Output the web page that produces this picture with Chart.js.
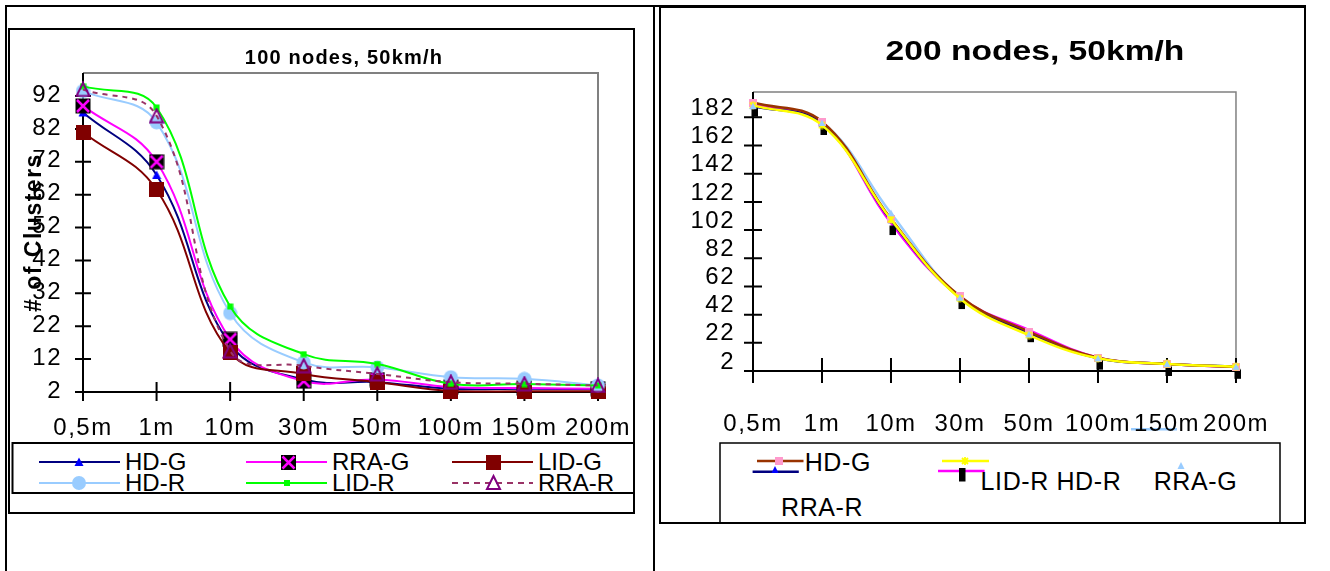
<!DOCTYPE html>
<html><head><meta charset="utf-8">
<script src="https://cdn.jsdelivr.net/npm/chart.js@4/dist/chart.umd.min.js"></script>
<style>
html,body{margin:0;padding:0;background:#fff;}
#page{position:relative;width:1330px;height:571px;overflow:hidden;font-family:"Liberation Sans",Arial,sans-serif;color:#000;background:#fff;}
canvas{position:absolute;}
.t{position:absolute;white-space:nowrap;font-size:24px;line-height:28px;}
.r{font-size:25px;letter-spacing:0.6px;}
</style></head><body><div id="page">
<svg width="1330" height="571" style="position:absolute;left:0;top:0">
  <g fill="none" stroke="#000" stroke-width="2">
    <line x1="5" y1="6" x2="1306" y2="6"/>
    <line x1="6" y1="6" x2="6" y2="571"/>
    <line x1="654" y1="6" x2="654" y2="571"/>
    <rect x="9" y="29" width="625" height="484"/>
    <rect x="12.5" y="443" width="621.5" height="50"/>
    <rect x="660" y="7" width="645" height="516"/>
    <rect x="720" y="443" width="560" height="80" stroke-width="1.5"/>
  </g>
  <!-- left legend symbols -->
  <line x1="39" y1="462" x2="120" y2="462" stroke="#000080" stroke-width="2"/>
  <polygon points="79,457.5 83.5,466 74.5,466" fill="#0000FF"/>
  <line x1="246" y1="462" x2="327" y2="462" stroke="#FF00FF" stroke-width="2"/>
  <rect x="281" y="455" width="15" height="15" fill="#000"/>
  <path d="M282.5 456.5 L294.5 468.5 M294.5 456.5 L282.5 468.5" stroke="#FF00FF" stroke-width="2.5"/>
  <line x1="452" y1="462" x2="533" y2="462" stroke="#800000" stroke-width="2"/>
  <rect x="486" y="455" width="15" height="15" fill="#800000"/>
  <line x1="39" y1="483" x2="120" y2="483" stroke="#99CCFF" stroke-width="2"/>
  <circle cx="79" cy="483" r="7" fill="#99CCFF"/>
  <line x1="246" y1="483" x2="327" y2="483" stroke="#00FF00" stroke-width="2"/>
  <rect x="284" y="480" width="6" height="6" fill="#00FF00"/>
  <line x1="452" y1="483" x2="533" y2="483" stroke="#993366" stroke-width="2" stroke-dasharray="6,5"/>
  <polygon points="493.5,476 500,489 487,489" fill="none" stroke="#800080" stroke-width="2"/>
  <!-- right legend symbols -->
  <line x1="757" y1="461" x2="803.5" y2="461" stroke="#993300" stroke-width="2.5"/>
  <rect x="775" y="457" width="8" height="8" fill="#FF99CC"/>
  <line x1="752.6" y1="471.7" x2="798.8" y2="471.7" stroke="#000080" stroke-width="2.5"/>
  <polygon points="775,466 778.5,473 771.5,473" fill="#0000FF"/>
  <line x1="942" y1="461" x2="989" y2="461" stroke="#FFFF00" stroke-width="2.5"/>
  <path d="M962 458 L968 464 M968 458 L962 464 M965 457 L965 465" stroke="#FFFF00" stroke-width="1.8"/>
  <line x1="938" y1="471" x2="984.6" y2="471" stroke="#FF00FF" stroke-width="2.5"/>
  <rect x="959" y="468" width="6.5" height="13.5" fill="#000"/>
  <polygon points="1181,462 1184.5,469 1177.5,469" fill="#99CCFF"/>
  <line x1="1131" y1="429.3" x2="1177" y2="429.3" stroke="#99CCFF" stroke-width="2.5"/>
</svg>
<canvas id="c1" width="660" height="440" style="left:0;top:0"></canvas>
<canvas id="c2" width="645" height="440" style="left:660px;top:0"></canvas>

<div style="position:absolute;left:144px;width:400px;text-align:center;top:45px;font-weight:bold;font-size:20px;line-height:24px;letter-spacing:1.2px;white-space:nowrap;">100 nodes, 50km/h</div>
<div style="position:absolute;left:835px;width:400px;text-align:center;top:34px;font-weight:bold;font-size:28px;line-height:34px;white-space:nowrap;transform:scaleX(1.2);transform-origin:center;">200 nodes, 50km/h</div>

<div class="t" style="left:125px;top:448px">HD-G</div>
<div class="t" style="left:332px;top:448px">RRA-G</div>
<div class="t" style="left:538px;top:448px">LID-G</div>
<div class="t" style="left:125px;top:469px">HD-R</div>
<div class="t" style="left:332px;top:469px">LID-R</div>
<div class="t" style="left:538px;top:469px">RRA-R</div>

<div class="t r" style="left:804.7px;top:447.7px">HD-G</div>
<div class="t r" style="left:980.6px;top:467px">LID-R HD-R</div>
<div class="t r" style="left:1153.7px;top:467px">RRA-G</div>
<div class="t r" style="left:781px;top:492.7px">RRA-R</div>
</div>
<script>
// ---------- data ----------
const categories = ['0,5m', '1m', '10m', '30m', '50m', '100m', '150m', '200m'];

// 100 nodes, 50km/h
const hdG100  = [87, 68, 16.5, 5.8, 5, 3, 3, 2.8];
const rraG100 = [89, 72, 18, 5.3, 5.8, 3.5, 3.2, 3];
const lidG100 = [81, 63.5, 14, 7.5, 5, 2.3, 2.2, 2.2];
const hdR100  = [93.5, 84, 26, 11, 9.5, 6.5, 6, 4];
const lidR100 = [95, 88.5, 28, 13.5, 10.5, 4.5, 4.4, 4];
const rraR100 = [94, 86, 14.5, 10, 7.5, 5, 4.5, 4];
const yTicks100 = [2, 12, 22, 32, 42, 52, 62, 72, 82, 92];

// 200 nodes, 50km/h
const hdG200  = [192.5, 179, 110, 55, 30, 11.5, 7, 5];
const lidG200 = [190, 177.5, 109, 54, 29, 11, 7, 5];
const lidR200 = [190.5, 176.5, 109.5, 53.5, 27.5, 11, 7, 5];
const hdR200  = [191, 178, 107, 54.5, 31, 11.5, 7, 5];
const rraG200 = [190, 178, 114, 54, 28, 11, 7, 5];
const rraR200 = [191, 178.5, 114, 54, 28.5, 11, 7, 5];
const yTicks200 = [2, 22, 42, 62, 82, 102, 122, 142, 162, 182];

// ---------- markers ----------
function marker(w, h, draw) {
  const c = document.createElement('canvas');
  c.width = w; c.height = h;
  draw(c.getContext('2d'), w / 2, h / 2);
  return c;
}
const triBlue = marker(10, 10, (g, cx, cy) => { g.fillStyle = '#0000FF'; g.beginPath(); g.moveTo(cx, cy - 4.5); g.lineTo(cx + 4.5, cy + 4); g.lineTo(cx - 4.5, cy + 4); g.closePath(); g.fill(); });
const blackX = marker(16, 16, (g) => { g.fillStyle = '#000'; g.fillRect(0.5, 0.5, 15, 15); g.strokeStyle = '#FF00FF'; g.lineWidth = 2.5; g.beginPath(); g.moveTo(2, 2); g.lineTo(14, 14); g.moveTo(14, 2); g.lineTo(2, 14); g.stroke(); });
const sqRed = marker(15, 15, (g) => { g.fillStyle = '#800000'; g.fillRect(0, 0, 15, 15); });
const circLB = marker(15, 15, (g, cx, cy) => { g.fillStyle = '#99CCFF'; g.beginPath(); g.arc(cx, cy, 7, 0, Math.PI * 2); g.fill(); });
const sqGreen = marker(7, 7, (g) => { g.fillStyle = '#00FF00'; g.fillRect(0.5, 0.5, 6, 6); });
const triOut = marker(16, 16, (g) => { g.strokeStyle = '#800080'; g.lineWidth = 2; g.beginPath(); g.moveTo(8, 1.5); g.lineTo(14.5, 14.5); g.lineTo(1.5, 14.5); g.closePath(); g.stroke(); });

const sqPink = marker(8, 8, (g) => { g.fillStyle = '#FF99CC'; g.fillRect(0, 0, 8, 8); });
const triBlueS = marker(8, 8, (g, cx, cy) => { g.fillStyle = '#0000FF'; g.beginPath(); g.moveTo(cx, cy - 3.5); g.lineTo(cx + 3.5, cy + 3); g.lineTo(cx - 3.5, cy + 3); g.closePath(); g.fill(); });
const starY = marker(9, 9, (g) => { g.strokeStyle = '#FFFF00'; g.lineWidth = 1.8; g.beginPath(); g.moveTo(1.5, 1.5); g.lineTo(7.5, 7.5); g.moveTo(7.5, 1.5); g.lineTo(1.5, 7.5); g.moveTo(4.5, 0.5); g.lineTo(4.5, 8.5); g.stroke(); });
const blackOff = marker(16, 32, (g) => { g.fillStyle = '#000'; g.fillRect(6.5, 18.5, 6.5, 9.5); });
const triLB = marker(8, 8, (g, cx, cy) => { g.fillStyle = '#99CCFF'; g.beginPath(); g.moveTo(cx, cy - 3.5); g.lineTo(cx + 3.5, cy + 3); g.lineTo(cx - 3.5, cy + 3); g.closePath(); g.fill(); });

// ---------- plugins ----------
const xlAxes = {
  id: 'xlAxes',
  beforeDatasetsDraw(chart, args, o) {
    const { ctx, chartArea: a, scales: { x, y } } = chart;
    ctx.save();
    ctx.strokeStyle = '#808080'; ctx.lineWidth = o.frameWidth;
    ctx.beginPath(); ctx.moveTo(a.left, a.top); ctx.lineTo(a.right, a.top); ctx.lineTo(a.right, a.bottom); ctx.stroke();
    ctx.strokeStyle = '#000'; ctx.lineWidth = o.axisWidth;
    ctx.beginPath();
    ctx.moveTo(a.left, a.top); ctx.lineTo(a.left, a.bottom + o.xDown);
    ctx.moveTo(a.left - o.yTick, a.bottom); ctx.lineTo(a.right, a.bottom);
    y.ticks.forEach((t, i) => { const py = y.getPixelForTick(i); ctx.moveTo(a.left - o.yTick, py); ctx.lineTo(a.left + o.yTick, py); });
    x.ticks.forEach((t, i) => { const px = x.getPixelForTick(i); ctx.moveTo(px, a.bottom - o.xUp); ctx.lineTo(px, a.bottom + o.xDown); });
    ctx.stroke();
    ctx.restore();
  }
};
const spacing = { id: 'spacing', beforeDraw(chart, args, o) { chart.ctx.letterSpacing = o.px + 'px'; } };

Chart.defaults.color = '#000';
Chart.defaults.font.family = '"Liberation Sans", Arial, sans-serif';

function ds(label, data, color, style, order, extra) {
  return Object.assign({
    label, data, borderColor: color, backgroundColor: color, borderWidth: 2,
    tension: 0.4, pointStyle: style, pointRadius: 6, pointHoverRadius: 6,
    clip: false, fill: false, order
  }, extra || {});
}

function baseOptions(cfg) {
  return {
    responsive: false, animation: false, devicePixelRatio: 1, events: [],
    layout: { padding: cfg.padding },
    plugins: { legend: { display: false }, tooltip: { enabled: false }, xlAxes: cfg.axes, spacing: { px: 1.5 } },
    scales: {
      x: {
        type: 'category', offset: false,
        grid: { display: false, drawTicks: false }, border: { display: false },
        ticks: { autoSkip: false, maxRotation: 0, minRotation: 0, padding: cfg.xPad, font: { size: 24 } },
        afterFit(s) { s.height = cfg.xH; }
      },
      y: {
        type: 'linear', min: cfg.min, max: cfg.max,
        grid: { display: false, drawTicks: false }, border: { display: false },
        ticks: { autoSkip: false, padding: cfg.yPad, labelOffset: cfg.yLabelOffset, font: { size: 24 } },
        afterBuildTicks(s) { s.ticks = cfg.ticks.map(v => ({ value: v })); },
        title: cfg.title,
        afterFit(s) { s.width = cfg.yW; }
      }
    }
  };
}

new Chart(document.getElementById('c1'), {
  type: 'line',
  data: {
    labels: categories,
    datasets: [
      ds('HD-G', hdG100, '#000080', triBlue, 5),
      ds('RRA-G', rraG100, '#FF00FF', blackX, 4),
      ds('LID-G', lidG100, '#800000', sqRed, 3),
      ds('HD-R', hdR100, '#99CCFF', circLB, 2),
      ds('LID-R', lidR100, '#00FF00', sqGreen, 1),
      ds('RRA-R', rraR100, '#993366', triOut, 0, { borderDash: [5, 5] })
    ]
  },
  options: baseOptions({
    padding: { left: 0, top: 73, right: 62, bottom: 0 },
    axes: { frameWidth: 2, axisWidth: 2, yTick: 8, xUp: 10, xDown: 9 },
    xPad: 22, xH: 48, yPad: 21, yW: 83, yLabelOffset: -1,
    min: 2, max: 99, ticks: yTicks100,
    title: { display: true, text: '# of Clusters', font: { size: 23, weight: 'bold' }, padding: { top: 21, bottom: 0 } }
  }),
  plugins: [xlAxes, spacing]
});

new Chart(document.getElementById('c2'), {
  type: 'line',
  data: {
    labels: categories,
    datasets: [
      ds('HD-G', hdG200, '#993300', sqPink, 2, { borderWidth: 2.5 }),
      ds('LID-G', lidG200, '#000080', triBlueS, 3, { borderWidth: 2.5 }),
      ds('LID-R', lidR200, '#FFFF00', starY, 1, { borderWidth: 2.5 }),
      ds('HD-R', hdR200, '#FF00FF', blackOff, 4, { borderWidth: 2.5 }),
      ds('RRA-G', rraG200, '#99CCFF', triLB, 0, { showLine: false }),
      ds('RRA-R', rraR200, '#99CCFF', 'circle', 5, { borderWidth: 2.5, pointRadius: 0 })
    ]
  },
  options: baseOptions({
    padding: { left: 0, top: 92, right: 36, bottom: 0 },
    axes: { frameWidth: 1.5, axisWidth: 2, yTick: 9, xUp: 13, xDown: 12 },
    xPad: 39, xH: 69, yPad: 18, yW: 93, yLabelOffset: -9,
    min: 2, max: 200, ticks: yTicks200,
    title: { display: false }
  }),
  plugins: [xlAxes, spacing]
});
</script>
</body></html>
